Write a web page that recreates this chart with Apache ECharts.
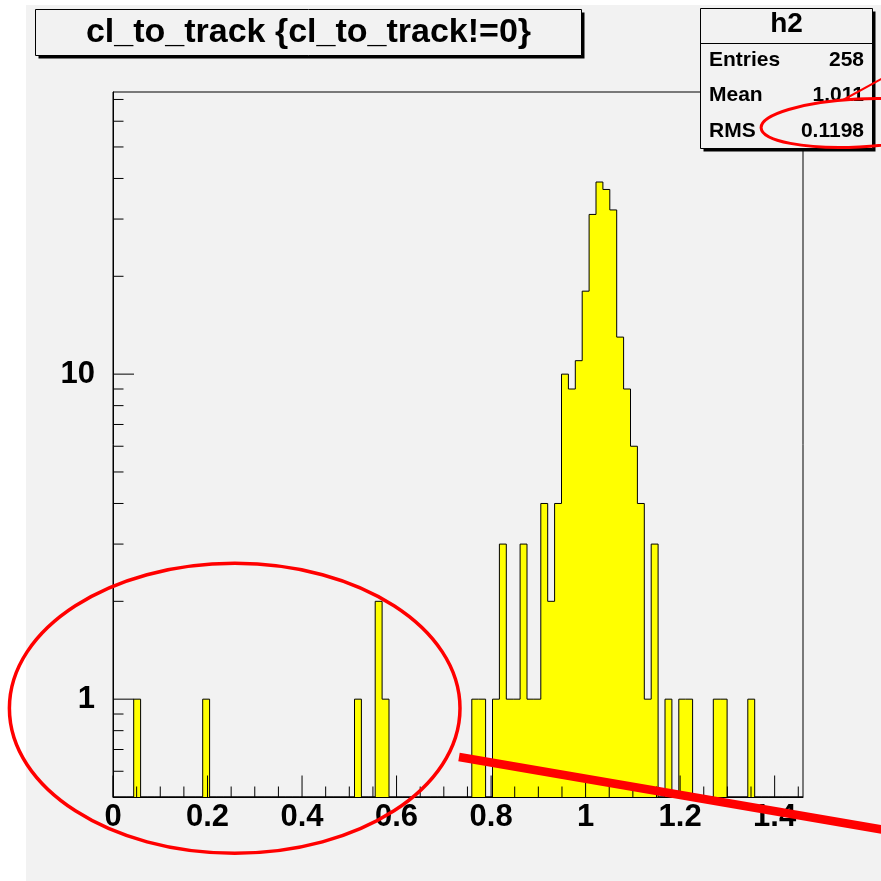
<!DOCTYPE html>
<html>
<head>
<meta charset="utf-8">
<script src="https://cdn.jsdelivr.net/npm/echarts@6/dist/echarts.min.js"></script>
<style>
html,body{margin:0;padding:0;background:#ffffff;}
#chart{width:881px;height:881px;}
</style>
</head>
<body>
<div id="chart"></div>
<script>
// ---- data ----
const TITLE = 'cl_to_track {cl_to_track!=0}';
const HIST_NAME = 'h2';
const X_MIN = 0;
const X_MAX = 1.46;
const BIN_WIDTH = 0.0146;
const Y_MIN = 0.5;
const Y_MAX = 73.8;
const COUNTS = [
  0,0,0,1,0,0,0,0,0,0,
  0,0,0,1,0,0,0,0,0,0,
  0,0,0,0,0,0,0,0,0,0,
  0,0,0,0,0,1,0,0,2,1,
  0,0,0,0,0,0,0,0,0,0,
  0,0,1,1,0,1,3,1,1,3,
  1,1,4,2,4,10,9,11,18,31,
  39,37,32,13,9,6,4,1,3,0,
  1,0,1,1,0,0,0,1,1,0,
  0,0,1,0,0,0,0,0,0,0
];
const STAT_LABELS = ['Entries', 'Mean', 'RMS'];
const STAT_VALUES = ['258', '1.011', '0.1198'];
const X_TICKS = [0,0.05,0.1,0.15,0.2,0.25,0.3,0.35,0.4,0.45,0.5,0.55,0.6,0.65,0.7,0.75,0.8,0.85,0.9,0.95,1,1.05,1.1,1.15,1.2,1.25,1.3,1.35,1.4,1.45];
const X_MAJOR_TICKS = [0,0.2,0.4,0.6,0.8,1,1.2,1.4];
const Y_TICKS = [0.6,0.7,0.8,0.9,1,2,3,4,5,6,7,8,9,10,20,30,40,50,60,70];
const Y_MAJOR_TICKS = [1,10];

// ---- build the step outline (library data) ----
const stepData = [];
for (let i = 0; i < COUNTS.length; i++) {
  stepData.push([X_MIN + i * BIN_WIDTH, Math.max(COUNTS[i], Y_MIN)]);
}
stepData.push([X_MIN + COUNTS.length * BIN_WIDTH, Y_MIN]);

const FONT = '"Liberation Sans", Arial, Helvetica, sans-serif';
const BG = '#f2f2f2';

const chart = echarts.init(document.getElementById('chart'), null, {renderer: 'canvas'});

const option = {
  animation: false,
  backgroundColor: '#ffffff',
  grid: {
    left: 113, top: 92, width: 690, height: 705,
    show: true, borderColor: '#000', borderWidth: 1, backgroundColor: 'transparent'
  },
  xAxis: {
    type: 'value', min: X_MIN, max: X_MAX, interval: 0.2, z: 10,
    axisLine: {show: true, lineStyle: {color: '#000', width: 1}},
    axisTick: {show: false},
    splitLine: {show: false},
    axisLabel: {
      show: true, color: '#000', fontSize: 31, fontWeight: 'bold', fontFamily: FONT,
      margin: 5, showMaxLabel: false
    }
  },
  yAxis: {
    type: 'log', logBase: 10, min: Y_MIN, max: Y_MAX, z: 10,
    axisLine: {show: true, lineStyle: {color: '#000', width: 1}},
    axisTick: {show: false},
    splitLine: {show: false},
    axisLabel: {
      show: true, color: '#000', fontSize: 31, fontWeight: 'bold', fontFamily: FONT,
      margin: 18, showMinLabel: false, showMaxLabel: false, padding: [6, 0, 0, 0],
      formatter: function (v) { return Y_MAJOR_TICKS.indexOf(Math.round(v * 1000) / 1000) >= 0 ? String(Math.round(v)) : ''; }
    }
  },
  series: [
    {
      name: HIST_NAME,
      type: 'line',
      step: 'end',
      data: stepData,
      symbol: 'none',
      clip: true,
      z: 2,
      lineStyle: {color: '#000', width: 1},
      areaStyle: {color: '#ffff00', opacity: 1, origin: 'start'}
    },
    {
      name: 'xticks',
      type: 'custom',
      z: 20,
      silent: true,
      data: X_TICKS.map(v => [v, 1]),
      renderItem: function (params, api) {
        const v = api.value(0);
        const p = api.coord([v, Y_MIN]);
        const major = X_MAJOR_TICKS.some(m => Math.abs(m - v) < 1e-6);
        const len = major ? 21.5 : 10.5;
        return {type: 'line', shape: {x1: p[0], y1: p[1], x2: p[0], y2: p[1] - len},
                style: {stroke: '#000', lineWidth: 1}};
      }
    },
    {
      name: 'yticks',
      type: 'custom',
      z: 20,
      silent: true,
      data: Y_TICKS.map(v => [X_MIN, v]),
      renderItem: function (params, api) {
        const v = api.value(1);
        const p = api.coord([X_MIN, v]);
        const major = Y_MAJOR_TICKS.indexOf(v) >= 0;
        const len = major ? 21 : 10.5;
        return {type: 'line', shape: {x1: p[0], y1: p[1], x2: p[0] + len, y2: p[1]},
                style: {stroke: '#000', lineWidth: 1}};
      }
    }
  ],
  graphic: [
    // canvas pad
    {type: 'rect', z: -10, silent: true, shape: {x: 26, y: 5, width: 900, height: 900}, style: {fill: BG}},
    // title box shadow + box
    {type: 'rect', z: 50, shape: {x: 38.5, y: 12.5, width: 546, height: 46}, style: {fill: '#000'}},
    {type: 'rect', z: 51, shape: {x: 35.5, y: 9.5, width: 546, height: 46}, style: {fill: BG, stroke: '#000', lineWidth: 1}},
    {type: 'text', z: 52, style: {text: TITLE, x: 308.5, y: 33, align: 'center', verticalAlign: 'middle',
      fill: '#000', font: 'bold 34px ' + FONT}},
    // stats box
    {type: 'rect', z: 50, shape: {x: 703.5, y: 11.5, width: 172, height: 140}, style: {fill: '#000'}},
    {type: 'rect', z: 51, shape: {x: 700.5, y: 8.5, width: 172, height: 140}, style: {fill: BG, stroke: '#000', lineWidth: 1}},
    {type: 'line', z: 52, shape: {x1: 700.5, y1: 43.5, x2: 872.5, y2: 43.5}, style: {stroke: '#000', lineWidth: 1}},
    {type: 'text', z: 52, style: {text: HIST_NAME, x: 786.5, y: 24, align: 'center', verticalAlign: 'middle',
      fill: '#000', font: 'bold 28px ' + FONT}},
    {type: 'text', z: 52, style: {text: STAT_LABELS[0], x: 709, y: 60, align: 'left', verticalAlign: 'middle', fill: '#000', font: 'bold 21px ' + FONT}},
    {type: 'text', z: 52, style: {text: STAT_VALUES[0], x: 864, y: 60, align: 'right', verticalAlign: 'middle', fill: '#000', font: 'bold 21px ' + FONT}},
    {type: 'text', z: 52, style: {text: STAT_LABELS[1], x: 709, y: 95, align: 'left', verticalAlign: 'middle', fill: '#000', font: 'bold 21px ' + FONT}},
    {type: 'text', z: 52, style: {text: STAT_VALUES[1], x: 864, y: 95, align: 'right', verticalAlign: 'middle', fill: '#000', font: 'bold 21px ' + FONT}},
    {type: 'text', z: 52, style: {text: STAT_LABELS[2], x: 709, y: 131, align: 'left', verticalAlign: 'middle', fill: '#000', font: 'bold 21px ' + FONT}},
    {type: 'text', z: 52, style: {text: STAT_VALUES[2], x: 864, y: 131, align: 'right', verticalAlign: 'middle', fill: '#000', font: 'bold 21px ' + FONT}},
    // red hand annotations
    {type: 'ellipse', z: 60, shape: {cx: 234.7, cy: 708.3, rx: 225.3, ry: 145}, style: {fill: 'none', stroke: '#ff0000', lineWidth: 3.5}},
    {type: 'line', z: 60, shape: {x1: 459, y1: 757, x2: 900, y2: 832.6}, style: {stroke: '#ff0000', lineWidth: 8.5}},
    {type: 'ellipse', z: 60, x: 858, y: 123, rotation: 0.05, shape: {cx: 0, cy: 0, rx: 97, ry: 24}, style: {fill: 'none', stroke: '#ff0000', lineWidth: 3}},
    {type: 'line', z: 60, shape: {x1: 843, y1: 100, x2: 885, y2: 77}, style: {stroke: '#ff0000', lineWidth: 2}}
  ]
};
chart.setOption(option);
</script>
</body>
</html>
